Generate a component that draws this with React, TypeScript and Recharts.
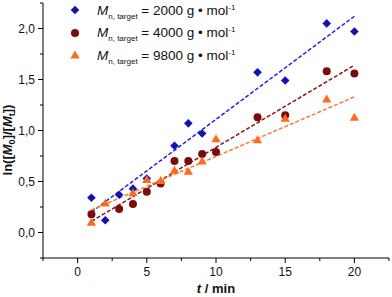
import React from 'react';
import { ComposedChart, Scatter, Line, XAxis, YAxis } from 'recharts';

// M_n,target = 2000 g/mol
const times2000 = [1, 2, 3, 4, 5, 7, 8, 9, 13, 15, 18, 20];
const lnRatio2000 = [0.34, 0.12, 0.37, 0.43, 0.53, 0.85, 1.07, 0.97, 1.57, 1.49, 2.05, 1.97];
// M_n,target = 4000 g/mol
const times4000 = [1, 3, 4, 5, 6, 7, 8, 9, 10, 13, 15, 18, 20];
const lnRatio4000 = [0.18, 0.23, 0.28, 0.4, 0.48, 0.7, 0.7, 0.77, 0.79, 1.13, 1.15, 1.58, 1.56];
// M_n,target = 9800 g/mol
const times9800 = [1, 2, 4, 5, 6, 7, 8, 9, 10, 13, 15, 18, 20];
const lnRatio9800 = [0.1, 0.29, 0.39, 0.52, 0.51, 0.61, 0.6, 0.7, 0.92, 0.91, 1.12, 1.31, 1.13];

// fitted lines (end points)
const fitTimes = [1, 20];
const fit2000 = [0.2, 2.12];
const fit4000 = [0.11, 1.64];
const fit9800 = [0.22, 1.33];

const seriesLabels = ['2000', '4000', '9800'];
const xTicks = [-2.5, 0, 2.5, 5, 7.5, 10, 12.5, 15, 17.5, 20, 22.5];
const yTicks = [-0.25, 0, 0.25, 0.5, 0.75, 1, 1.25, 1.5, 1.75, 2, 2.25];

const BLUE = '#1212b4';
const RED = '#7c0c0c';
const ORANGE = '#ff6a1c';
const FONT = '"Liberation Sans", Arial, sans-serif';

const toRows = (ts: number[], vs: number[]) => ts.map((t, i) => ({ t, v: vs[i] }));

const Diamond = (p: any) => {
    const { cx, cy } = p;
    const s = 4.3;
    return <polygon points={`${cx},${cy - s} ${cx + s},${cy} ${cx},${cy + s} ${cx - s},${cy}`} fill={BLUE} />;
};
const Dot = (p: any) => <circle cx={p.cx} cy={p.cy} r={4} fill={RED} />;
const Tri = (p: any) => {
    const { cx, cy } = p;
    return <polygon points={`${cx},${cy - 4.5} ${cx + 4.6},${cy + 3.5} ${cx - 4.6},${cy + 3.5}`} fill={ORANGE} />;
};

const XTick = (props: any) => {
    const { x, y, payload } = props;
    const major = Math.abs(payload.value % 5) < 1e-6;
    return (
        <g>
            <line x1={x} x2={x} y1={y} y2={y + (major ? 5 : 3)} stroke="#000" />
            {major && (
                <text x={x} y={y + 18} textAnchor="middle" fontSize={12} fontFamily={FONT} fill="#111">
                    {payload.value}
                </text>
            )}
        </g>
    );
};

const YTick = (props: any) => {
    const { x, y, payload } = props;
    const major = Math.abs(payload.value * 2 - Math.round(payload.value * 2)) < 1e-6;
    return (
        <g>
            <line x1={x} x2={x - (major ? 5 : 3)} y1={y} y2={y} stroke="#000" />
            {major && (
                <text x={x - 8} y={y + 4} textAnchor="end" fontSize={12} fontFamily={FONT} fill="#111">
                    {payload.value.toFixed(1).replace('.', ',')}
                </text>
            )}
        </g>
    );
};

const YLabel = () => (
    <text
        transform="translate(12, 140) rotate(-90)"
        textAnchor="middle"
        fontSize={13}
        fontWeight="bold"
        fontFamily={FONT}
        fill="#111"
    >
        <tspan>ln([</tspan>
        <tspan fontStyle="italic">M</tspan>
        <tspan fontSize={9} dy={3}>0</tspan>
        <tspan dy={-3}>]/[</tspan>
        <tspan fontStyle="italic">M</tspan>
        <tspan fontSize={9} dy={3}>t</tspan>
        <tspan dy={-3}>])</tspan>
    </text>
);

const XLabel = () => (
    <text x={216} y={293} textAnchor="middle" fontSize={13} fontWeight="bold" fontFamily={FONT} fill="#111">
        <tspan fontStyle="italic">t</tspan>
        <tspan> / min</tspan>
    </text>
);

const markers = [
    (cx: number, cy: number) => <Diamond cx={cx} cy={cy} />,
    (cx: number, cy: number) => <Dot cx={cx} cy={cy} />,
    (cx: number, cy: number) => <Tri cx={cx} cy={cy} />,
];

const LegendBox = () => (
    <div style={{ position: 'absolute', left: 68, top: -1, fontFamily: FONT, fontSize: 13.5, color: '#111' }}>
        {seriesLabels.map((m, i) => (
            <div key={m} style={{ height: 22.5, display: 'flex', alignItems: 'center' }}>
                <svg width={20} height={12} style={{ marginRight: 9 }}>
                    {markers[i](7, 6)}
                </svg>
                <span style={{ whiteSpace: 'nowrap' }}>
                    <i>M</i>
                    <span style={{ fontSize: 8, position: 'relative', top: 4 }}>n, target</span>
                    {` = ${m} g • mol`}
                    <span style={{ fontSize: 8, position: 'relative', top: -5 }}>-1</span>
                </span>
            </div>
        ))}
    </div>
);

export default function App() {
    return (
        <div style={{ position: 'absolute', left: 0, top: 0, width: 392, height: 297, background: '#fff' }}>
            <ComposedChart width={392} height={297} margin={{ top: 3, right: 3, bottom: 0, left: 0 }}>
                <XAxis
                    type="number"
                    dataKey="t"
                    domain={[-2.5, 22.5]}
                    ticks={xTicks}
                    interval={0}
                    height={39}
                    tickSize={0}
                    tickMargin={0}
                    tick={<XTick />}
                    stroke="#000"
                    allowDataOverflow
                />
                <YAxis
                    type="number"
                    dataKey="v"
                    domain={[-0.25, 2.25]}
                    ticks={yTicks}
                    interval={0}
                    width={43}
                    tickSize={0}
                    tickMargin={0}
                    tick={<YTick />}
                    stroke="#000"
                    allowDataOverflow
                />
                <Line data={toRows(fitTimes, fit2000)} dataKey="v" stroke="#2222e6" strokeWidth={1.5} strokeDasharray="4 2" dot={false} isAnimationActive={false} />
                <Line data={toRows(fitTimes, fit4000)} dataKey="v" stroke="#8e1414" strokeWidth={1.5} strokeDasharray="4 2" dot={false} isAnimationActive={false} />
                <Line data={toRows(fitTimes, fit9800)} dataKey="v" stroke="#ff7a30" strokeWidth={1.5} strokeDasharray="4 2" dot={false} isAnimationActive={false} />
                <Scatter data={toRows(times2000, lnRatio2000)} dataKey="v" shape={<Diamond />} isAnimationActive={false} />
                <Scatter data={toRows(times4000, lnRatio4000)} dataKey="v" shape={<Dot />} isAnimationActive={false} />
                <Scatter data={toRows(times9800, lnRatio9800)} dataKey="v" shape={<Tri />} isAnimationActive={false} />
                <YLabel />
                <XLabel />
            </ComposedChart>
            <LegendBox />
        </div>
    );
}
